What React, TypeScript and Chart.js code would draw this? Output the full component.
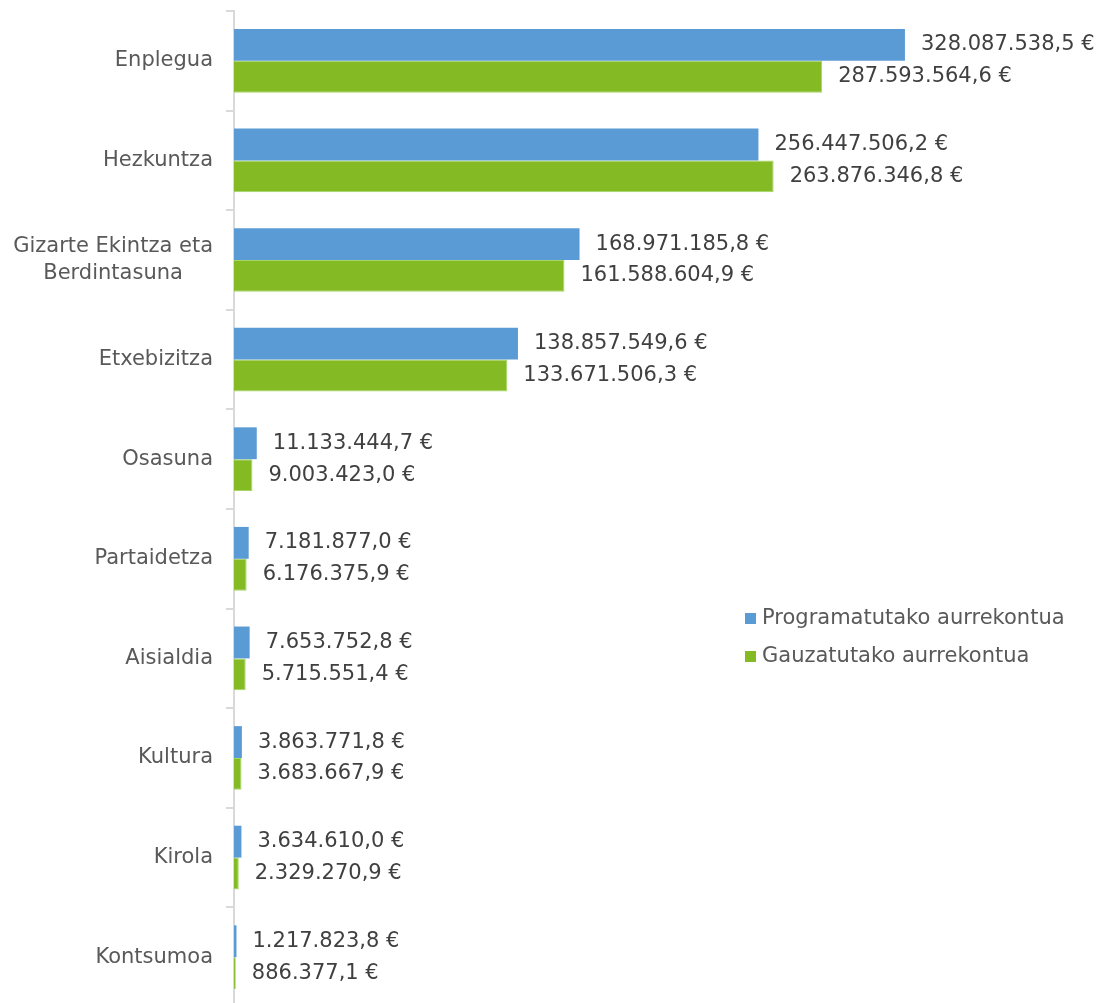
import React, { useEffect, useRef } from "react";
import { Chart, registerables } from "chart.js";

Chart.register(...registerables);

const categories: (string | string[])[] = [
  "Enplegua",
  "Hezkuntza",
  ["Gizarte Ekintza eta", "Berdintasuna"],
  "Etxebizitza",
  "Osasuna",
  "Partaidetza",
  "Aisialdia",
  "Kultura",
  "Kirola",
  "Kontsumoa",
];

const programmed: number[] = [
  328087538.5, 256447506.2, 168971185.8, 138857549.6, 11133444.7,
  7181877.0, 7653752.8, 3863771.8, 3634610.0, 1217823.8,
];

const executed: number[] = [
  287593564.6, 263876346.8, 161588604.9, 133671506.3, 9003423.0,
  6176375.9, 5715551.4, 3683667.9, 2329270.9, 886377.1,
];

const seriesNames: string[] = ["Programatutako aurrekontua", "Gauzatutako aurrekontua"];
const seriesColors: string[] = ["#5B9BD5", "#84BB25"];

const FONT = "21px 'DejaVu Sans', Verdana, sans-serif";

function fmt(v: number): string {
  const [i, d] = v.toFixed(1).split(".");
  return i.replace(/\B(?=(\d{3})+(?!\d))/g, ".") + "," + d + " €";
}

const labelsPlugin = {
  id: "customLabels",
  afterDraw(chart: any) {
    const ctx = chart.ctx;
    const yScale = chart.scales.y;
    ctx.save();
    // category labels
    ctx.font = FONT;
    ctx.fillStyle = "#595959";
    ctx.textBaseline = "middle";
    ctx.textAlign = "center";
    const right = 213;
    const lineH = 27;
    categories.forEach((c, idx) => {
      const lines = Array.isArray(c) ? c : [c];
      const maxW = Math.max(...lines.map((l) => ctx.measureText(l).width));
      const cx = right - maxW / 2;
      const cy = yScale.getPixelForValue(idx);
      lines.forEach((l, li) => {
        const y = cy + (li - (lines.length - 1) / 2) * lineH;
        ctx.fillText(l, cx, y);
      });
    });
    // data labels
    ctx.textAlign = "left";
    ctx.fillStyle = "#404040";
    chart.data.datasets.forEach((ds: any, di: number) => {
      const meta = chart.getDatasetMeta(di);
      meta.data.forEach((el: any, i: number) => {
        ctx.fillText(fmt(ds.data[i]), el.x + 16, el.y);
      });
    });
    // legend
    const lx = 745;
    const ly = [619, 657];
    seriesNames.forEach((n, i) => {
      ctx.fillStyle = seriesColors[i];
      ctx.fillRect(lx, ly[i] - 6, 11, 11);
      ctx.fillStyle = "#595959";
      ctx.fillText(n, lx + 17, ly[i]);
    });
    ctx.restore();
  },
};

export default function App() {
  const ref = useRef<HTMLCanvasElement | null>(null);
  useEffect(() => {
    if (!ref.current) return;
    const chart = new Chart(ref.current, {
      type: "bar",
      data: {
        labels: categories as any,
        datasets: [
          {
            label: seriesNames[0],
            data: programmed,
            backgroundColor: seriesColors[0],
            borderWidth: 0,
            categoryPercentage: 0.64,
            barPercentage: 1.0,
          },
          {
            label: seriesNames[1],
            data: executed,
            backgroundColor: seriesColors[1],
            borderColor: "#A3D663",
            borderWidth: 1,
            categoryPercentage: 0.64,
            barPercentage: 1.0,
          },
        ],
      },
      options: {
        indexAxis: "y",
        responsive: true,
        maintainAspectRatio: false,
        animation: false,
        layout: { padding: { top: 11, bottom: 3, left: 0, right: 58 } },
        plugins: {
          legend: { display: false },
          tooltip: { enabled: false },
        },
        scales: {
          x: { display: false, min: 0, max: 400000000 },
          y: {
            offset: true,
            afterFit: (scale: any) => {
              scale.width = 234;
            },
            ticks: { display: false },
            grid: {
              offset: true,
              drawOnChartArea: false,
              drawTicks: true,
              tickLength: 8,
              color: "#D9D9D9",
              lineWidth: 2,
            },
            border: { display: true, color: "#D9D9D9", width: 2 },
          },
        },
      },
      plugins: [labelsPlugin],
    });
    return () => chart.destroy();
  }, []);
  return (
    <div
      style={{
        position: "fixed",
        top: 0,
        left: 0,
        width: 1110,
        height: 1003,
        overflow: "hidden",
        background: "#fff",
      }}
    >
      <div style={{ position: "relative", width: 1110, height: 1010 }}>
        <canvas ref={ref} />
      </div>
    </div>
  );
}
